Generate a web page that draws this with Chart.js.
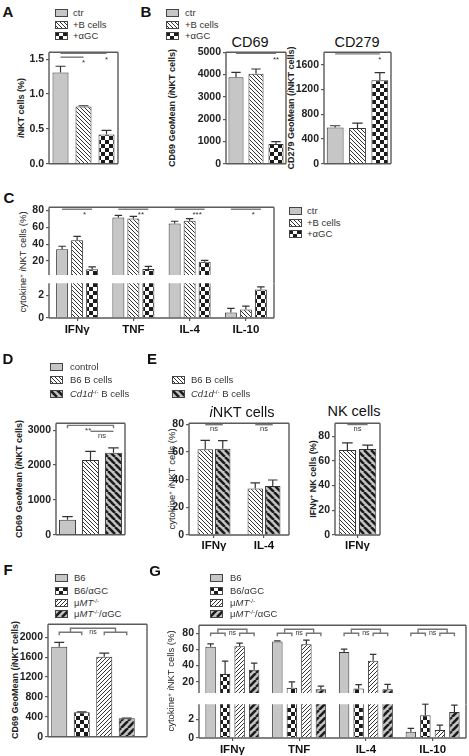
<!DOCTYPE html>
<html><head><meta charset="utf-8">
<script src="https://cdn.jsdelivr.net/npm/chart.js@4.4.1/dist/chart.umd.min.js"></script>
<style>
html,body{margin:0;padding:0;background:#fff;}
body{width:469px;height:756px;position:relative;overflow:hidden;font-family:"Liberation Sans",Arial,Helvetica,sans-serif;}
canvas{position:absolute;}
.t{position:absolute;white-space:nowrap;color:#222;line-height:1.15;}
.letter{font-weight:bold;font-size:15px;color:#111;transform:translate(-50%,-50%);}
.ytitle{font-weight:bold;font-size:9px;color:#222;transform:translate(-50%,-50%) rotate(-90deg);}
.ytitle.reg{font-weight:normal;font-size:9.5px;}
.ptitle{font-size:14.5px;color:#111;transform:translate(-50%,-50%);}
.leg{font-size:9.5px;color:#333;transform:translateY(-50%);}
.t sup{font-size:65%;vertical-align:0.45em;line-height:0;}
</style></head><body>
<script>
// ================= DATA =================
// Panel A
const groupsA = ['ctr', '+B cells', '+αGC'];
const valuesA = [1.31, 0.82, 0.42];
const semA = [0.09, 0.012, 0.06];
const ticksA = [0, 0.5, 1.0, 1.5];
// Panel B
const valuesCD69 = [3880, 4040, 880];
const semCD69 = [220, 210, 110];
const ticksCD69 = [0, 1000, 2000, 3000, 4000, 5000];
const valuesCD279 = [586, 576, 1349];
const semCD279 = [27, 80, 123];
const ticksCD279 = [0, 400, 800, 1200, 1600];
// Panel C
const cytokinesC = ['IFNγ', 'TNF', 'IL-4', 'IL-10'];
const ctrC = [34, 71.5, 64.5, 0.5];
const semCtrC = [3.5, 2.5, 2.5, 0.35];
const bcellsC = [44.7, 70.3, 67.5, 0.76];
const semBcellsC = [4.5, 2.5, 2.7, 0.3];
const agcC = [10.2, 10.6, 19.2, 2.53];
const semAgcC = [3, 3, 1.6, 0.24];
const ticksCTop = [20, 40, 60, 80];
const ticksCBottom = [0, 1, 2, 3];
// Panel D
const groupsD = ['control', 'B6 B cells', '<i>Cd1d</i><sup>-/-</sup> B cells'];
const valuesD = [430, 2145, 2355];
const semD = [90, 250, 140];
const ticksD = [0, 1000, 2000, 3000];
// Panel E
const seriesE = ['B6 B cells', '<i>Cd1d</i><sup>-/-</sup> B cells'];
const cytokinesE = ['IFNγ', 'IL-4'];
const b6E = [62, 33.7];
const semB6E = [6.5, 4];
const cd1dE = [62.3, 35.4];
const semCd1dE = [6, 4.4];
const ticksE = [0, 20, 40, 60, 80];
const cytokinesNK = ['IFNγ'];
const b6NK = [68.8];
const semB6NK = [5.8];
const cd1dNK = [69.6];
const semCd1dNK = [3.2];
const ticksNK = [0, 20, 40, 60, 80];
// Panel F
const groupsF = ['B6', 'B6/αGC', 'μ<i>MT</i><sup>-/-</sup>', 'μ<i>MT</i><sup>-/-</sup>/αGC'];
const valuesF = [1810, 490, 1610, 370];
const semF = [85, 10, 70, 6];
const ticksF = [0, 400, 800, 1200, 1600, 2000];
// Panel G
const cytokinesG = ['IFNγ', 'TNF', 'IL-4', 'IL-10'];
const b6G = [63.5, 70, 57, 0.68];
const semB6G = [3.5, 0.6, 3.5, 0.37];
const b6agcG = [29.5, 12.4, 11.5, 2.47];
const semB6agcG = [16, 7.5, 5, 1.18];
const mmtG = [64, 66.5, 46, 0.86];
const semMmtG = [4, 5, 8, 0.54];
const mmtagcG = [35, 10.6, 10.6, 2.8];
const semMmtagcG = [8, 4, 6, 0.75];
const ticksGTop = [20, 40, 60, 80];
const ticksGBottom = [0, 1, 2, 3];

// ================= STYLE HELPERS =================
const FONT = '"Liberation Sans", Arial, Helvetica, sans-serif';
function tile(size, draw) {
  const c = document.createElement('canvas'); c.width = c.height = size;
  const g = c.getContext('2d'); draw(g, size);
  return g.createPattern(c, 'repeat');
}
function hatch(size, lw, dir, fg, bg) {
  return tile(size, (g, s) => {
    g.fillStyle = bg; g.fillRect(0, 0, s, s);
    g.strokeStyle = fg; g.lineWidth = lw; g.beginPath();
    for (let k = -1; k <= 1; k++) {
      if (dir === 'back') { g.moveTo(k * s, 0); g.lineTo(k * s + s, s); }
      else { g.moveTo(k * s, s); g.lineTo(k * s + s, 0); }
    }
    g.stroke();
  });
}
function checker(sz, fg, bg) {
  return tile(sz * 2, (g) => {
    g.fillStyle = bg; g.fillRect(0, 0, sz * 2, sz * 2);
    g.fillStyle = fg; g.fillRect(0, 0, sz, sz); g.fillRect(sz, sz, sz, sz);
  });
}
const FILL = {
  gray: '#c6c6c6',
  fineBack: hatch(4, 1, 'back', '#333', '#fff'),
  check: checker(4, '#1c1c1c', '#fff'),
  thickBack: hatch(7, 2.6, 'back', '#1c1c1c', '#c4c4c4'),
  fineFwd: hatch(4, 1, 'fwd', '#333', '#fff'),
  thickFwd: hatch(7, 2.6, 'fwd', '#1c1c1c', '#c4c4c4')
};

function text(html, x, y, cls) {
  const d = document.createElement('div');
  d.className = 't ' + cls; d.innerHTML = html;
  d.style.left = x + 'px'; d.style.top = y + 'px';
  document.body.appendChild(d); return d;
}
function legend(names, fills, sx, tx, rows) {
  names.forEach((nm, i) => {
    const c = document.createElement('canvas'); c.width = 13; c.height = 8;
    c.style.left = sx + 'px'; c.style.top = (rows[i] - 4) + 'px';
    const g = c.getContext('2d'); g.fillStyle = fills[i]; g.fillRect(0, 0, 13, 8);
    g.strokeStyle = '#444'; g.lineWidth = 1; g.strokeRect(0.5, 0.5, 12, 7);
    document.body.appendChild(c);
    text(nm, tx, rows[i], 'leg');
  });
}

// ================= PLUGINS =================
const framePlugin = {
  id: 'frame',
  afterDatasetsDraw(chart, args, o) {
    const { left, right, top, bottom } = chart.chartArea;
    const ctx = chart.ctx; ctx.save();
    ctx.strokeStyle = '#5a5a5a'; ctx.lineWidth = 1.4;
    const R = right + (o.extR || 0);
    ctx.beginPath();
    ctx.moveTo(left, top - (o.extUp || 0)); ctx.lineTo(left, bottom);
    if (o.bottom) { ctx.moveTo(left, bottom); ctx.lineTo(R, bottom); }
    if (o.top) { ctx.moveTo(left, top); ctx.lineTo(R, top); }
    if (o.right) { ctx.moveTo(R, top - (o.extUp || 0)); ctx.lineTo(R, bottom + (o.extDown || 0)); }
    ctx.stroke(); ctx.restore();
  }
};
const errPlugin = {
  id: 'errbars',
  afterDatasetsDraw(chart) {
    const ctx = chart.ctx, ys = chart.scales.y, a = chart.chartArea;
    ctx.save();
    ctx.beginPath(); ctx.rect(a.left, a.top - 1, a.right - a.left, a.bottom - a.top + 1); ctx.clip();
    ctx.strokeStyle = '#333'; ctx.lineWidth = 1.2;
    chart.data.datasets.forEach((ds, i) => {
      if (!ds.sem) return;
      chart.getDatasetMeta(i).data.forEach((el, j) => {
        const v = ds.data[j], e = ds.sem[j];
        const y0 = ys.getPixelForValue(v), y1 = ys.getPixelForValue(v + e);
        const w = el.width * 0.62;
        ctx.beginPath();
        ctx.moveTo(el.x, y0); ctx.lineTo(el.x, y1);
        ctx.moveTo(el.x - w / 2, y1); ctx.lineTo(el.x + w / 2, y1);
        ctx.stroke();
      });
    });
    ctx.restore();
  }
};
const sigPlugin = {
  id: 'sig',
  afterDatasetsDraw(chart, args, o) {
    const items = o.items || []; if (!items.length) return;
    const ctx = chart.ctx, ys = chart.scales.y;
    const px = p => chart.getDatasetMeta(p[0]).data[p[1]].x;
    const py = v => ys.getPixelForValue(v);
    ctx.save();
    ctx.strokeStyle = '#777'; ctx.lineWidth = 1.4; ctx.fillStyle = '#333';
    ctx.textAlign = 'center';
    for (const it of items) {
      ctx.font = (it.size || 8) + 'px ' + FONT;
      if (it.type === 'pairs') {
        const a0 = px(it.a[0]), a1 = px(it.a[1]), b0 = px(it.b[0]), b1 = px(it.b[1]);
        const yb = py(it.y), yt = py(it.tip), ytop = py(it.top);
        const am = (a0 + a1) / 2, bm = (b0 + b1) / 2;
        ctx.beginPath();
        ctx.moveTo(a0, yt); ctx.lineTo(a0, yb); ctx.lineTo(a1, yb); ctx.lineTo(a1, yt);
        ctx.moveTo(b0, yt); ctx.lineTo(b0, yb); ctx.lineTo(b1, yb); ctx.lineTo(b1, yt);
        ctx.moveTo(am, yb); ctx.lineTo(am, ytop); ctx.lineTo(bm, ytop); ctx.lineTo(bm, yb);
        ctx.stroke();
        ctx.textBaseline = 'middle';
        ctx.fillText(it.label, (am + bm) / 2, (ytop + yb) / 2 + 1.5);
      } else {
        const xa = px(it.from), xb = px(it.to), y = py(it.y);
        ctx.beginPath();
        if (it.tip !== undefined) {
          const yt = py(it.tip);
          ctx.moveTo(xa, yt); ctx.lineTo(xa, y); ctx.lineTo(xb, y); ctx.lineTo(xb, yt);
        } else { ctx.moveTo(xa, y); ctx.lineTo(xb, y); }
        ctx.stroke();
        const t = it.t === undefined ? 0.5 : it.t;
        ctx.textBaseline = 'top';
        ctx.fillText(it.label, xa + (xb - xa) * t, y + (it.dy === undefined ? 1.5 : it.dy));
      }
    }
    ctx.restore();
  }
};

// ================= CHART FACTORY =================
function makeBar(o) {
  const [x0, y0, x1, y1] = o.area;
  const padT = o.padT === undefined ? 8 : o.padT;
  const padB = o.padB || 0;
  const extR = o.frame.extR || 0;
  const padR = extR + 4;
  const xDisp = o.xDisplay !== false;
  const xh = xDisp ? (o.xh || 8) : 0;
  const W = Math.round(x1 - x0 + o.yw + padR);
  const H = Math.round(y1 - y0 + padT + xh + padB);
  const cv = document.createElement('canvas');
  cv.width = W; cv.height = H;
  cv.style.width = W + 'px'; cv.style.height = H + 'px';
  cv.style.left = (x0 - o.yw) + 'px'; cv.style.top = (y0 - padT) + 'px';
  document.body.appendChild(cv);
  const yTicks = o.yTicks;
  return new Chart(cv, {
    type: 'bar',
    data: {
      labels: o.labels,
      datasets: o.datasets.map(d => ({
        label: d.label, data: d.data, sem: d.sem,
        backgroundColor: d.fill, borderColor: '#333', borderWidth: 1,
        categoryPercentage: o.cat, barPercentage: o.bar
      }))
    },
    options: {
      responsive: false, animation: false, devicePixelRatio: 1,
      layout: { padding: { top: padT, right: padR, bottom: padB, left: 0 } },
      plugins: {
        legend: { display: false }, tooltip: { enabled: false },
        frame: o.frame, sig: { items: o.sig || [] }
      },
      scales: {
        x: {
          display: xDisp, offset: true,
          grid: { display: !!o.xTicks, drawOnChartArea: false, drawTicks: true, tickLength: 3, offset: false, color: '#5a5a5a', lineWidth: 1.2 },
          border: { display: false },
          ticks: { display: !!o.xLabels, font: { family: FONT, size: 11.5, weight: 'bold' }, color: '#111', padding: o.xPad === undefined ? 2 : o.xPad, maxRotation: 0, autoSkip: false },
          afterFit: s => { s.height = xh; }
        },
        y: {
          min: o.yMin, max: o.yMax,
          afterBuildTicks: s => { s.ticks = yTicks.map(v => ({ value: v })); },
          grid: { display: true, drawOnChartArea: false, drawTicks: true, tickLength: 3, color: '#5a5a5a', lineWidth: 1.2 },
          border: { display: false },
          ticks: { font: { family: FONT, size: 10.5, weight: 'bold' }, color: '#222', padding: 2,
                   callback: o.fmt || (v => String(v)) },
          afterFit: s => { s.width = o.yw; }
        }
      }
    },
    plugins: [framePlugin, errPlugin, sigPlugin]
  });
}

// ================= PANEL A =================
text('A', 8, 12, 'letter');
legend(groupsA, [FILL.gray, FILL.fineBack, FILL.check], 55, 73, [13, 25, 36]);
text('<i>i</i>NKT cells (%)', 21, 108, 'ytitle');
makeBar({
  area: [49, 52, 118, 164], yw: 24, labels: groupsA,
  datasets: [{ label: 'A', data: valuesA, sem: semA, fill: [FILL.gray, FILL.fineBack, FILL.check] }],
  yMin: 0, yMax: 1.6, yTicks: ticksA, fmt: v => v.toFixed(1), cat: 0.8, bar: 0.87,
  frame: { top: true, right: true, bottom: true },
  sig: [
    { from: [0, 0], to: [0, 2], y: 1.585, label: '*', t: 1, dy: 2 },
    { from: [0, 0], to: [0, 1], y: 1.53, label: '*', t: 1, dy: 2 }
  ]
});

// ================= PANEL B =================
text('B', 146, 12, 'letter');
legend(groupsA, [FILL.gray, FILL.fineBack, FILL.check], 166, 185, [13, 25, 36]);
text('CD69', 250, 42, 'ptitle');
text('CD279', 357, 42, 'ptitle');
text('CD69 GeoMean (<i>i</i>NKT cells)', 172, 108, 'ytitle');
text('CD279 GeoMean (<i>i</i>NKT cells)', 291, 108, 'ytitle');
makeBar({
  area: [226, 52, 286, 164], yw: 32, labels: groupsA,
  datasets: [{ label: 'CD69', data: valuesCD69, sem: semCD69, fill: [FILL.gray, FILL.fineBack, FILL.check] }],
  yMin: 0, yMax: 5000, yTicks: ticksCD69, cat: 0.82, bar: 0.92,
  frame: { top: true, right: true, bottom: true },
  sig: [{ from: [0, 0], to: [0, 2], y: 4950, label: '**', t: 1, dy: 2 }]
});
makeBar({
  area: [324, 52, 391, 164], yw: 32, labels: groupsA,
  datasets: [{ label: 'CD279', data: valuesCD279, sem: semCD279, fill: [FILL.gray, FILL.fineBack, FILL.check] }],
  yMin: 0, yMax: 1800, yTicks: ticksCD279, cat: 0.82, bar: 0.92,
  frame: { top: true, right: true, bottom: true },
  sig: [{ from: [0, 0], to: [0, 2], y: 1775, label: '*', t: 1, dy: 2 }]
});

// ================= PANEL C =================
text('C', 9, 198, 'letter');
legend(groupsA, [FILL.gray, FILL.fineBack, FILL.check], 289, 307, [211, 223, 234]);
text('cytokine<sup>+</sup> <i>i</i>NKT cells (%)', 23, 262, 'ytitle reg');
function dsC() {
  return [
    { label: groupsA[0], data: ctrC, sem: semCtrC, fill: FILL.gray },
    { label: groupsA[1], data: bcellsC, sem: semBcellsC, fill: FILL.fineBack },
    { label: groupsA[2], data: agcC, sem: semAgcC, fill: FILL.check }
  ];
}
makeBar({
  area: [49, 207, 274, 275], yw: 20, labels: cytokinesC, datasets: dsC(),
  yMin: 3.5, yMax: 83.5, yTicks: ticksCTop, cat: 0.8, bar: 0.8,
  xDisplay: false, padB: 12,
  frame: { top: true, right: true, bottom: false, extDown: 8 },
  sig: cytokinesC.map((c, i) => ({ from: [0, i], to: [2, i], y: 81.2, label: ['*', '**', '***', '*'][i], t: 0.75, dy: 1.5 }))
});
makeBar({
  area: [49, 283, 274, 318], yw: 20, labels: cytokinesC, datasets: dsC(),
  yMin: 0, yMax: 3.09, yTicks: ticksCBottom, cat: 0.8, bar: 0.8,
  xLabels: true, xTicks: true, xh: 20,
  frame: { top: false, right: true, bottom: true }
});

// ================= PANEL D =================
text('D', 8, 359, 'letter');
legend(groupsD, [FILL.gray, FILL.fineBack, FILL.thickBack], 50, 70, [367, 380, 394]);
text('CD69 GeoMean (<i>i</i>NKT cells)', 19, 479, 'ytitle');
makeBar({
  area: [56, 423, 125, 535], yw: 32, labels: groupsD,
  datasets: [{ label: 'D', data: valuesD, sem: semD, fill: [FILL.gray, FILL.fineBack, FILL.thickBack] }],
  yMin: 0, yMax: 3200, yTicks: ticksD, cat: 0.8, bar: 0.92,
  frame: { top: true, right: true, bottom: true },
  sig: [
    { from: [0, 0], to: [0, 2], y: 3140, tip: 3060, label: '**', t: 0.45, dy: 1.5 },
    { from: [0, 1], to: [0, 2], y: 2970, label: 'ns', t: 0.5, dy: 1, size: 7.5 }
  ]
});

// ================= PANEL E =================
text('E', 152, 359, 'letter');
legend(seriesE, [FILL.fineBack, FILL.thickBack], 172, 191, [380, 394]);
text('<i>i</i>NKT cells', 242, 412, 'ptitle');
text('NK cells', 354, 411, 'ptitle');
text('cytokine<sup>+</sup> <i>i</i>NKT cells (%)', 172, 479, 'ytitle reg');
text('IFNγ<sup>+</sup> NK cells (%)', 313, 479, 'ytitle');
makeBar({
  area: [189, 423, 289, 535], yw: 20, labels: cytokinesE,
  datasets: [
    { label: 'B6', data: b6E, sem: semB6E, fill: FILL.fineBack },
    { label: 'Cd1d', data: cd1dE, sem: semCd1dE, fill: FILL.thickBack }
  ],
  yMin: 0, yMax: 80.8, yTicks: ticksE, cat: 0.7, bar: 0.88,
  xLabels: true, xTicks: true, xh: 16, xPad: 1,
  frame: { top: true, right: true, bottom: true },
  sig: cytokinesE.map((c, i) => ({ from: [0, i], to: [1, i], y: 79.8, label: 'ns', t: 0.5, dy: 0.5, size: 7.5 }))
});
makeBar({
  area: [335, 423, 380, 535], yw: 20, labels: cytokinesNK,
  datasets: [
    { label: 'B6', data: b6NK, sem: semB6NK, fill: FILL.fineBack },
    { label: 'Cd1d', data: cd1dNK, sem: semCd1dNK, fill: FILL.thickBack }
  ],
  yMin: 0, yMax: 90.4, yTicks: ticksNK, cat: 0.9, bar: 0.85,
  xLabels: true, xTicks: true, xh: 16, xPad: 1,
  frame: { top: true, right: true, bottom: true },
  sig: [{ from: [0, 0], to: [1, 0], y: 89.4, label: 'ns', t: 0.5, dy: 0.5, size: 7.5 }]
});

// ================= PANEL F =================
const fillsF = [FILL.gray, FILL.check, FILL.fineFwd, FILL.thickFwd];
text('F', 8, 570, 'letter');
legend(groupsF, fillsF, 55, 74, [578, 591, 603, 614]);
text('CD69 GeoMean (<i>i</i>NKT cells)', 15, 680, 'ytitle');
makeBar({
  area: [48, 624, 138, 737], yw: 32, labels: groupsF,
  datasets: [{ label: 'F', data: valuesF, sem: semF, fill: fillsF }],
  yMin: 0, yMax: 2260, yTicks: ticksF, cat: 0.8, bar: 0.89,
  frame: { top: true, right: true, bottom: true, extR: 9 },
  sig: [{ type: 'pairs', a: [[0, 0], [0, 1]], b: [[0, 2], [0, 3]], y: 2100, tip: 2040, top: 2180, label: 'ns', size: 7 }]
});

// ================= PANEL G =================
text('G', 155, 571, 'letter');
legend(groupsF, fillsF, 210, 230, [578, 591, 603, 614]);
text('cytokine<sup>+</sup> <i>i</i>NKT cells (%)', 171, 681, 'ytitle reg');
function dsG() {
  return [
    { label: 'B6', data: b6G, sem: semB6G, fill: FILL.gray },
    { label: 'B6/αGC', data: b6agcG, sem: semB6agcG, fill: FILL.check },
    { label: 'μMT', data: mmtG, sem: semMmtG, fill: FILL.fineFwd },
    { label: 'μMT/αGC', data: mmtagcG, sem: semMmtagcG, fill: FILL.thickFwd }
  ];
}
makeBar({
  area: [199, 625, 466, 693], yw: 20, labels: cytokinesG, datasets: dsG(),
  yMin: 6, yMax: 90, yTicks: ticksGTop, cat: 0.87, bar: 0.72,
  xDisplay: false, padB: 12,
  frame: { top: true, right: true, bottom: false, extDown: 11 },
  sig: cytokinesG.map((c, i) => ({ type: 'pairs', a: [[0, i], [1, i]], b: [[2, i], [3, i]], y: 80.1, tip: 76.4, top: 85.1, label: 'ns', size: 7 }))
});
makeBar({
  area: [199, 704, 466, 738], yw: 20, labels: cytokinesG, datasets: dsG(),
  yMin: 0, yMax: 3.64, yTicks: ticksGBottom, cat: 0.87, bar: 0.72,
  xLabels: true, xTicks: true, xh: 18,
  frame: { top: false, right: true, bottom: true }
});
</script>
</body></html>
